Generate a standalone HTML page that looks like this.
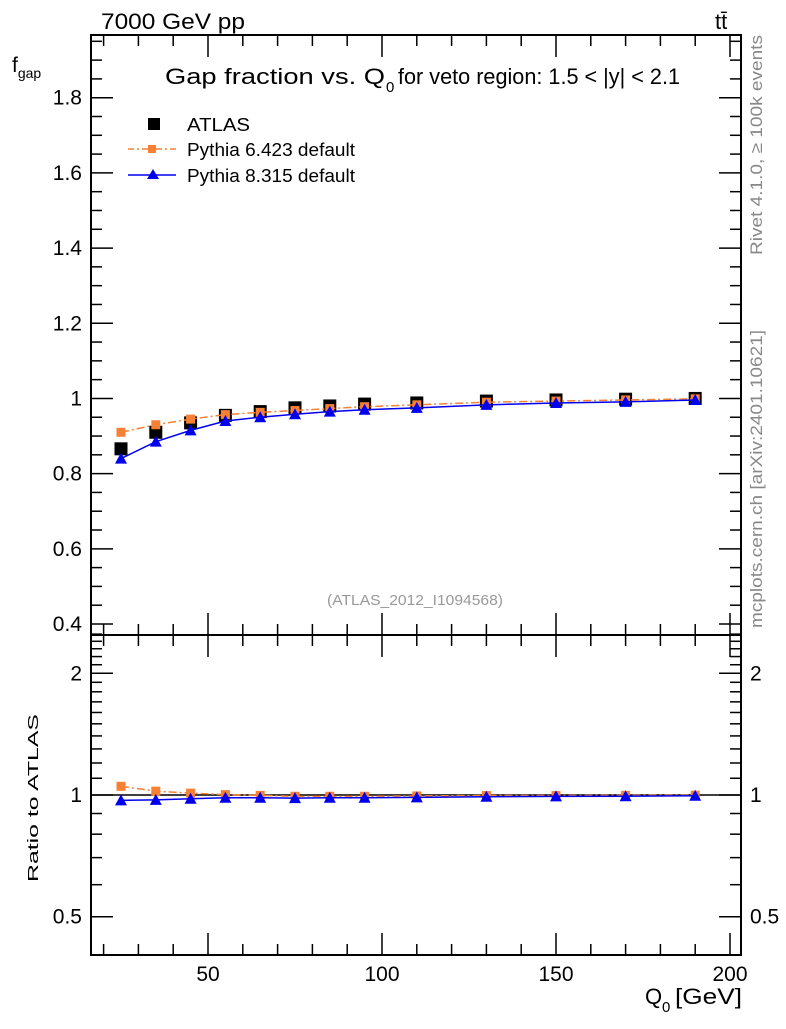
<!DOCTYPE html>
<html><head><meta charset="utf-8"><style>
body{margin:0;background:#fff;}
svg text{font-family:"Liberation Sans",sans-serif;}
</style></head><body>
<svg id="c" width="786" height="1024" viewBox="0 0 786 1024" xmlns="http://www.w3.org/2000/svg">
<g id="g"></g>
</svg>
<script>
const q0 = [25,35,45,55,65,75,85,95,110,130,150,170,190];
const atlas = [0.866,0.910,0.935,0.955,0.965,0.975,0.980,0.985,0.988,0.993,0.996,0.998,1.000];
const py6 = [0.910,0.930,0.945,0.957,0.963,0.968,0.973,0.978,0.983,0.990,0.993,0.996,0.999];
const py8 = [0.840,0.885,0.915,0.940,0.950,0.958,0.965,0.970,0.975,0.983,0.988,0.991,0.996];
const xTicks = [50,100,150,200];
const yTicks = [0.4,0.6,0.8,1,1.2,1.4,1.6,1.8];
const yTickLabels = ["0.4","0.6","0.8","1","1.2","1.4","1.6","1.8"];
const rTicks = [0.5,1,2];
const rTickLabels = ["0.5","1","2"];

const NS="http://www.w3.org/2000/svg";
const g=document.getElementById('g');
function el(t,a,txt){const e=document.createElementNS(NS,t);for(const k in a)e.setAttribute(k,a[k]);if(txt!==undefined)e.textContent=txt;g.appendChild(e);return e;}
const L=91,R=741,T=35,MB=635,RB=955;
const X=v=>208+(v-50)*(730-208)/150;
const Y=v=>624-(v-0.4)*(97.7-624)/(-1.4);
const RY=v=>795-Math.log2(v)*121.7;

let e;
e=el('rect',{x:L,y:T,width:R-L,height:MB-T,fill:'none',stroke:'#000','stroke-width':2});

e=el('rect',{x:L,y:MB,width:R-L,height:RB-MB,fill:'none',stroke:'#000','stroke-width':2});


for(let v=20;v<=200;v+=10){
  const x=X(v),maj=v%50===0,len=maj?22:11;
  for(const [y0,dir] of [[T,1],[MB,-1],[MB,1],[RB,-1]]){
    el('line',{x1:x,y1:y0,x2:x,y2:y0+dir*len,stroke:'#000','stroke-width':1.5});
  }
}
xTicks.forEach(v=>{e=el('text',{x:X(v),y:981,'font-size':21,'text-anchor':'middle'},String(v));
});
for(let i=0;i<=31;i++){
  const v=0.4+i*0.05; if(v>1.96)break;
  const y=Y(v),maj=i%4===0,len=maj?22:11;
  el('line',{x1:L,y1:y,x2:L+len,y2:y,stroke:'#000','stroke-width':1.5});
  el('line',{x1:R,y1:y,x2:R-len,y2:y,stroke:'#000','stroke-width':1.5});
}
yTicks.forEach((v,i)=>{e=el('text',{x:82,y:Y(v)+7,'font-size':21,'text-anchor':'end'},yTickLabels[i]);
});
const rMinor=[0.5,0.6,0.7,0.8,0.9,1,1.1,1.2,1.3,1.4,1.5,1.6,1.7,1.8,1.9,2,2.1,2.2,2.3,2.4,2.5];
rMinor.forEach(v=>{const y=RY(v),maj=rTicks.includes(v),len=maj?22:11;
  el('line',{x1:L,y1:y,x2:L+len,y2:y,stroke:'#000','stroke-width':1.5});
  el('line',{x1:R,y1:y,x2:R-len,y2:y,stroke:'#000','stroke-width':1.5});});
rTicks.forEach((v,i)=>{
  e=el('text',{x:82,y:RY(v)+7,'font-size':21,'text-anchor':'end'},rTickLabels[i]);
  
  e=el('text',{x:750,y:RY(v)+7,'font-size':21},rTickLabels[i]);
  
});
el('line',{x1:L,y1:RY(1),x2:R,y2:RY(1),stroke:'#000','stroke-width':1.5});

function series(vals,color,dash,marker,name,ratio){
  const pts=q0.map((q,i)=>[X(q),ratio?RY(vals[i]):Y(vals[i])]);
  if(color){e=el('polyline',{points:pts.map(p=>p.join(',')).join(' '),fill:'none',stroke:color,'stroke-width':1.5,'stroke-dasharray':dash||''});
  }
  pts.forEach(p=>{
    if(marker==='sq'){e=el('rect',{x:p[0]-6.5,y:p[1]-6.5,width:13,height:13,fill:'#000'});}
    else if(marker==='osq'){e=el('rect',{x:p[0]-4.5,y:p[1]-4.5,width:9,height:9,fill:'#f78035'});}
    else {e=el('polygon',{points:`${p[0]},${p[1]-6} ${p[0]-6},${p[1]+5} ${p[0]+6},${p[1]+5}`,fill:'#0000ee'});}
    
  });
}
series(atlas,null,null,'sq','atlas',false);
series(py6,'#f78035','8 3 2 3','osq','pythia6',false);
series(py8,'#0000ee','','tri','pythia8',false);
series(py6.map((v,i)=>v/atlas[i]),'#f78035','8 3 2 3','osq','pythia6-ratio',true);
series(py8.map((v,i)=>v/atlas[i]),'#0000ee','','tri','pythia8-ratio',true);

e=el('rect',{x:148,y:118,width:12,height:12,fill:'#000'});
e=el('text',{x:187,y:131,'font-size':18,textLength:63,lengthAdjust:'spacingAndGlyphs'},'ATLAS');
e=el('line',{x1:128,y1:149,x2:176,y2:149,stroke:'#f78035','stroke-width':1.5,'stroke-dasharray':'6 3 2 3'});
el('rect',{x:148,y:145,width:8,height:8,fill:'#f78035'});
e=el('text',{x:187,y:156,'font-size':18,textLength:168,lengthAdjust:'spacingAndGlyphs'},'Pythia 6.423 default');
e=el('line',{x1:128,y1:175,x2:176,y2:175,stroke:'#0000ee','stroke-width':1.5});
el('polygon',{points:'153,169 147,179 159,179',fill:'#0000ee'});
e=el('text',{x:187,y:182,'font-size':18,textLength:168,lengthAdjust:'spacingAndGlyphs'},'Pythia 8.315 default');
</script>
<svg width="786" height="1024" style="position:absolute;left:0;top:0" xmlns="http://www.w3.org/2000/svg">
<text x="101" y="29" font-size="22" textLength="144" lengthAdjust="spacingAndGlyphs" font-family="Liberation Sans,sans-serif">7000 GeV pp</text>
<text x="715" y="29" font-size="22" font-family="Liberation Sans,sans-serif">tt̄</text>
<g font-family="Liberation Sans,sans-serif">
<text x="165" y="84" font-size="22" textLength="220" lengthAdjust="spacingAndGlyphs">Gap fraction vs. Q</text>
<text x="386" y="92" font-size="15">0</text>
<text x="398" y="84" font-size="22" textLength="282" lengthAdjust="spacingAndGlyphs">for veto region: 1.5 &lt; |y| &lt; 2.1</text>
</g>
<text x="12" y="72" font-size="21" font-family="Liberation Sans,sans-serif">f<tspan font-size="14" dy="6">gap</tspan></text>
<text transform="translate(38,798) rotate(-90)" text-anchor="middle" font-size="15" textLength="168" lengthAdjust="spacingAndGlyphs" font-family="Liberation Sans,sans-serif">Ratio to ATLAS</text>
<g font-family="Liberation Sans,sans-serif">
<text x="645" y="1004" font-size="22">Q</text>
<text x="662" y="1012" font-size="15">0</text>
<text x="675" y="1004" font-size="22" textLength="67" lengthAdjust="spacingAndGlyphs">[GeV]</text>
</g>
<text x="415" y="605" text-anchor="middle" font-size="15" textLength="176" lengthAdjust="spacingAndGlyphs" fill="#999" font-family="Liberation Sans,sans-serif">(ATLAS_2012_I1094568)</text>
<text transform="translate(762,145) rotate(-90)" text-anchor="middle" font-size="17" textLength="220" lengthAdjust="spacingAndGlyphs" fill="#888" font-family="Liberation Sans,sans-serif">Rivet 4.1.0, ≥ 100k events</text>
<text transform="translate(762,479) rotate(-90)" text-anchor="middle" font-size="17" textLength="298" lengthAdjust="spacingAndGlyphs" fill="#888" font-family="Liberation Sans,sans-serif">mcplots.cern.ch [arXiv:2401.10621]</text>
</svg>
</body></html>
